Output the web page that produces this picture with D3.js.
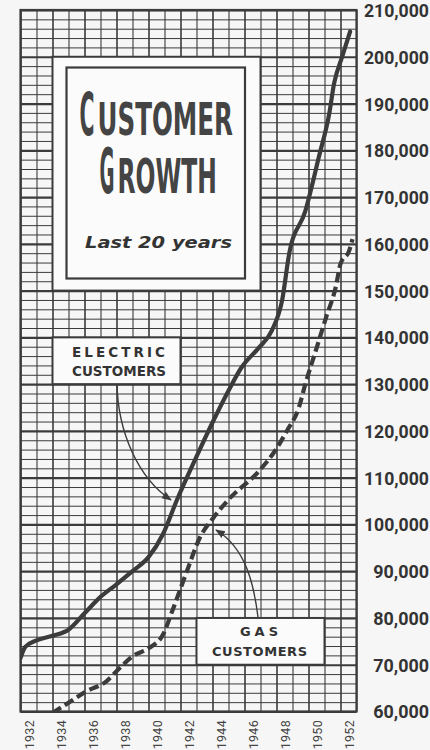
<!DOCTYPE html>
<html><head><meta charset="utf-8">
<script src="https://cdn.jsdelivr.net/npm/d3@7"></script>
<style>
html,body{margin:0;padding:0;background:#f6f6f6;}
svg{display:block;}
</style></head><body>
<svg id="chart" width="430" height="750"></svg>
<script>
// ---- data ----
const electricYears = [1932.0, 1932.3, 1933, 1934, 1935, 1936, 1937, 1938, 1939, 1940, 1940.9, 1941.75, 1943, 1944, 1945, 1945.8, 1946.9, 1947.7, 1948.35, 1948.8, 1949.8, 1950.65, 1951.3, 1951.6, 1952.1, 1952.6];
const electricCustomers = [71400, 73800, 75200, 76200, 77500, 81000, 84500, 87200, 90000, 93000, 97900, 105000, 114500, 121800, 128600, 133500, 137800, 141400, 147900, 158000, 167000, 178600, 187900, 194300, 200000, 205400];
const gasYears = [1934.0, 1935.1, 1936.1, 1937.35, 1938.2, 1939.0, 1940.05, 1940.9, 1941.55, 1942.4, 1943.2, 1944.05, 1945.0, 1946.9, 1947.9, 1948.65, 1949.4, 1949.8, 1950.45, 1951.1, 1951.7, 1952.0, 1952.55, 1952.75];
const gasCustomers = [59700, 62100, 64300, 66400, 69300, 71800, 73600, 76400, 82100, 90000, 97100, 101400, 105300, 111400, 115700, 120000, 125000, 130000, 137100, 144300, 150700, 155700, 158600, 161000];
const yearLabels = [1932, 1934, 1936, 1938, 1940, 1942, 1944, 1946, 1948, 1950, 1952];
const valueLabels = [60000, 70000, 80000, 90000, 100000, 110000, 120000, 130000, 140000, 150000, 160000, 170000, 180000, 190000, 200000, 210000];
const titleLine1 = ["C", "USTOMER"];
const titleLine2 = ["G", "ROWTH"];
const subtitle = "Last 20 years";
const electricLabel = ["ELECTRIC", "CUSTOMERS"];
const gasLabel = ["GAS", "CUSTOMERS"];

const ink = "#3b3b3b";
const svg = d3.select("#chart");
const x = d3.scaleLinear().domain([1932, 1953]).range([20.5, 356.5]);
const y = d3.scaleLinear().domain([60000, 210000]).range([711.5, 10]);

// ---- grid ----
const gridV = d3.axisBottom(x).tickValues(d3.range(1932, 1954)).tickSize(-(y(60000) - y(210000))).tickFormat("");
svg.append("g").attr("transform", `translate(0,${y(60000)})`).call(gridV)
  .call(g => g.select(".domain").remove())
  .selectAll("line").attr("stroke", ink).attr("stroke-width", d => d % 2 === 0 ? 1.6 : 1.1);
const gridH = d3.axisLeft(y).tickValues(d3.range(60000, 210001, 2000)).tickSize(-(x(1953) - x(1932))).tickFormat("");
svg.append("g").attr("transform", `translate(${x(1932)},0)`).call(gridH)
  .call(g => g.select(".domain").remove())
  .selectAll("line").attr("stroke", ink).attr("stroke-width", d => d % 10000 === 0 ? 2.2 : 1);
svg.append("rect").attr("x", x(1932)).attr("y", y(210000)).attr("width", x(1953) - x(1932)).attr("height", y(60000) - y(210000))
  .attr("fill", "none").attr("stroke", ink).attr("stroke-width", 2.2);

// ---- white panels cut out of the grid ----
function panel(x0, x1, v0, v1) {
  svg.append("rect").attr("x", x(x0)).attr("y", y(v1)).attr("width", x(x1) - x(x0)).attr("height", y(v0) - y(v1))
    .attr("fill", "#fbfbfb").attr("stroke", ink).attr("stroke-width", 2);
}
panel(1934, 1947, 150000, 200000);
panel(1934, 1942, 130000, 140000);
panel(1943, 1951, 70000, 80000);

// title box
svg.append("rect").attr("x", 66.5).attr("y", 67.5).attr("width", 178.5).attr("height", 211)
  .attr("fill", "none").attr("stroke", ink).attr("stroke-width", 2.2);
const tf = "'DejaVu Sans', sans-serif";
function tt(str, xx, yy, size, len, extra) {
  const t = svg.append("text").attr("x", xx).attr("y", yy).text(str)
    .attr("font-family", tf).attr("font-size", size).attr("font-weight", "bold").attr("fill", "#444")
    .attr("textLength", len).attr("lengthAdjust", "spacingAndGlyphs");
  if (extra) extra(t);
  return t;
}
tt(titleLine1[0], 79.5, 135, 59, 15);
tt(titleLine1[1], 97.5, 135, 45, 135.5);
tt(titleLine2[0], 99.5, 193, 62, 15);
tt(titleLine2[1], 117.5, 193, 48, 99.5);
tt(subtitle, 85, 248, 16, 147, t => t.attr("font-style", "italic").attr("fill", "#333"));

// ---- series ----
svg.append("clipPath").attr("id", "plotclip").append("rect")
  .attr("x", x(1932)).attr("y", y(210000)).attr("width", x(1953) - x(1932)).attr("height", y(60000) - y(210000));
const line = d3.line().x(d => x(d[0])).y(d => y(d[1])).curve(d3.curveMonotoneX);
const elec = electricYears.map((yr, i) => [yr, electricCustomers[i]]);
const gas = gasYears.map((yr, i) => [yr, gasCustomers[i]]);
const series = svg.append("g").attr("clip-path", "url(#plotclip)");
series.append("path").datum(elec).attr("d", line).attr("fill", "none").attr("stroke", ink)
  .attr("stroke-width", 4.2).attr("stroke-linecap", "round").attr("stroke-linejoin", "round");
series.append("path").datum(gas).attr("d", line).attr("fill", "none").attr("stroke", ink)
  .attr("stroke-width", 4.2).attr("stroke-dasharray", "10,4.5");

// ---- labels ----
function lab(str, cx, yy, size, len) {
  svg.append("text").attr("x", cx).attr("y", yy).text(str).attr("text-anchor", "middle")
    .attr("font-family", tf).attr("font-weight", "bold").attr("font-size", size).attr("fill", "#333")
    .attr("textLength", len).attr("lengthAdjust", "spacing");
}
lab(electricLabel[0], 118.5, 357, 13.5, 93);
lab(electricLabel[1], 119, 376, 13.5, 94);
lab(gasLabel[0], 259, 636, 13, 38);
lab(gasLabel[1], 259.5, 656, 13, 95);

// leader arrows
const defs = svg.append("defs");
defs.append("marker").attr("id", "arr").attr("viewBox", "0 0 10 10").attr("refX", 9).attr("refY", 5)
  .attr("markerWidth", 7).attr("markerHeight", 7).attr("orient", "auto")
  .append("path").attr("d", "M0,1 L10,5 L0,9 Z").attr("fill", ink);
svg.append("path").attr("d", "M117,384 C118,432 138,478 171,500").attr("fill", "none")
  .attr("stroke", ink).attr("stroke-width", 1.4).attr("marker-end", "url(#arr)");
svg.append("path").attr("d", "M258,617 C254,585 246,548 216,530").attr("fill", "none")
  .attr("stroke", ink).attr("stroke-width", 1.4).attr("marker-end", "url(#arr)");

// ---- axes ----
const yAxis = d3.axisRight(y).tickValues(valueLabels).tickSize(0).tickPadding(0).tickFormat(d3.format(","));
svg.append("g").attr("transform", "translate(429,0)").call(yAxis)
  .call(g => g.select(".domain").remove())
  .selectAll("text").attr("text-anchor", "end").attr("x", 0).attr("dy", "0.36em")
  .attr("font-family", "Roboto, 'DejaVu Sans', sans-serif").attr("font-weight", "bold")
  .attr("font-size", 18).attr("fill", "#333")
  .attr("textLength", d => d3.format(",")(d).length * 9.3).attr("lengthAdjust", "spacingAndGlyphs");

const xAxis = d3.axisBottom(x).tickValues(yearLabels).tickSize(0).tickPadding(0).tickFormat(d3.format("d"));
svg.append("g").attr("transform", "translate(0,0)").call(xAxis)
  .call(g => g.select(".domain").remove())
  .selectAll(".tick").each(function (d) {
    d3.select(this).attr("transform", `translate(${x(d) + 8.5},720)`);
  })
  .select("text").attr("transform", "rotate(-90)").attr("text-anchor", "end").attr("x", 0).attr("y", 0).attr("dy", "0.36em")
  .attr("font-family", "Roboto, 'DejaVu Sans', sans-serif").attr("font-size", 12.5).attr("letter-spacing", 0.3).attr("fill", "#444");
</script>
</body></html>
